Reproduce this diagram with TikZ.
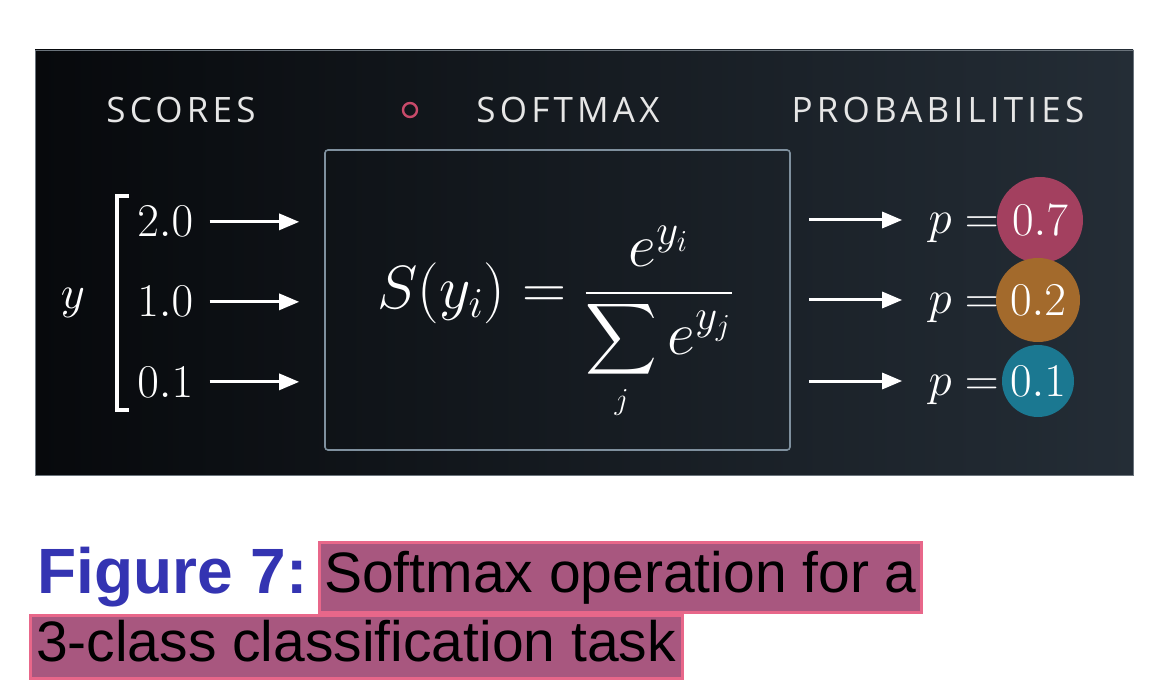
\RequirePackage{fix-cm}
\documentclass[tikz,border=0pt]{standalone}
\usepackage[no-math]{fontspec}
\setmainfont{Liberation Sans}
\newfontfamily\hdrfont[LetterSpace=12]{Open Sans}
\usepackage{amsmath}
\usepackage{xcolor}
\usetikzlibrary{arrows.meta,positioning}

\definecolor{panelL}{HTML}{07090C}
\definecolor{panelR}{HTML}{242D36}
\definecolor{panelEdge}{HTML}{6A737B}
\definecolor{hdrgray}{HTML}{E6E6E6}
\definecolor{dotpink}{HTML}{C94A6A}
\definecolor{boxedge}{HTML}{7F909E}
\definecolor{pinkc}{HTML}{A3405F}
\definecolor{orangec}{HTML}{A36A2C}
\definecolor{tealc}{HTML}{1B7891}
\definecolor{figblue}{HTML}{3434B2}
\definecolor{hlborder}{HTML}{E8678A}
\definecolor{hlfill}{HTML}{A8577F}

\begin{document}
\begin{tikzpicture}[
    x=0.5pt, y=-0.5pt,
    hdr/.style={text=hdrgray, font=\hdrfont\fontsize{17.5}{21}\selectfont, inner sep=0},
    val/.style={text=white, font=\fontsize{23.5}{28}\selectfont, inner sep=0},
    arrow/.style={-{Triangle[length=10pt, width=8pt]}, line width=1.5pt, white},
    prob/.style={circle, inner sep=0, text=white, font=\fontsize{23.5}{28}\selectfont},
    hl/.style={draw=hlborder, line width=1.5pt, fill=hlfill, inner sep=0, align=center,
               font=\fontsize{28.5}{34}\selectfont, text height=21pt, text depth=6pt}
]
\useasboundingbox (0,0) rectangle (1164,690);
\fill[white] (0,0) rectangle (1164,690);

% dark panel
\shade[left color=panelL, right color=panelR] (35,50) rectangle (1133,475);
\draw[panelEdge, line width=0.4pt] (35,50) rectangle (1133,475);

% headers
\node[hdr] (scores) at (181,110) {SCORES};
\node[hdr] (softmax) at (568,110) {SOFTMAX};
\node[hdr] (probs) at (938,110) {PROBABILITIES};
\node[circle, draw=dotpink, line width=1.2pt, minimum size=7pt, inner sep=0] (dot) at (410,110) {};

% softmax box
\node[draw=boxedge, line width=0.8pt, rounded corners=1.5pt, minimum width=232.5pt, minimum height=150pt] (box) at (557.5,300) {};
\node[text=white, font=\fontsize{30.5}{36}\selectfont, anchor=base, inner sep=0] (formula) at (556,308)
    {$\displaystyle S(y_i)=\frac{e^{y_i}}{\displaystyle\sum\limits_{\scriptscriptstyle j} e^{y_j}}$};

% scores
\draw[white, line width=1.7pt] (129,196) -- (117,196) -- (117,410) -- (129,410);
\node[val] (ylab) at (73,303) {$y$};
\node[val, anchor=base west] (s1) at (137,237) {$2.0$};
\node[val, anchor=base west] (s2) at (137,317) {$1.0$};
\node[val, anchor=base west] (s3) at (137,397) {$0.1$};

\draw[arrow, shorten >=12.5pt] ([xshift=8pt]s1.east) -- (s1 -| box.west);
\draw[arrow, shorten >=12.5pt] ([xshift=8pt]s2.east) -- (s2 -| box.west);
\draw[arrow, shorten >=12.5pt] ([xshift=8pt]s3.east) -- (s3 -| box.west);

% probabilities
\node[prob, fill=pinkc, minimum size=43pt] (c1) at (1040,220) {$0.7$};
\node[prob, fill=orangec, minimum size=42pt] (c2) at (1038,300) {$0.2$};
\node[prob, fill=tealc, minimum size=36pt] (c3) at (1038,381) {$0.1$};

\node[val, anchor=base east] (p1) at (999,234) {$p=$};
\node[val, anchor=base east] (p2) at (999,314) {$p=$};
\node[val, anchor=base east] (p3) at (999,395) {$p=$};

\draw[arrow, shorten <=9pt, shorten >=13pt] (box.east |- c1) -- (p1.west |- c1);
\draw[arrow, shorten <=9pt, shorten >=13pt] (box.east |- c2) -- (p2.west |- c2);
\draw[arrow, shorten <=9pt, shorten >=13pt] (box.east |- c3) -- (p3.west |- c3);

% caption
\node[font=\bfseries\fontsize{32}{38}\selectfont, text=figblue, anchor=base west, inner sep=0] (figlabel) at (37,593) {Figure 7:};
\node[hl, minimum width=301pt, minimum height=35pt] (cap1) at (620.5,577) {Softmax operation for a};
\node[hl, minimum width=326pt, minimum height=31.5pt] (cap2) at (356,646.5) {3-class classification task};
\end{tikzpicture}
\end{document}
